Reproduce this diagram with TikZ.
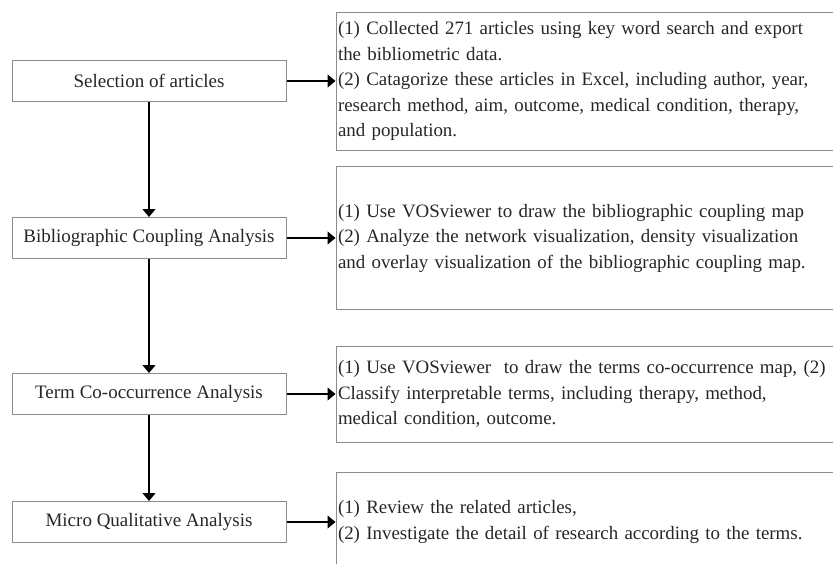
\documentclass[tikz,border=0pt]{standalone}
\usepackage{fontspec}
\setmainfont{Liberation Serif}
\usetikzlibrary{
	positioning,
	arrows.meta
}

\begin{document}
\begin{tikzpicture}[x=1pt,y=-1pt,node distance=49pt,
	stagebox/.style={draw=black!45, line width=1pt, minimum width=274pt, minimum height=41pt, inner sep=0pt, text=black!85, font=\fontsize{19}{25.5}\selectfont},
	descbox/.style={draw=black!45, line width=1pt, text width=501pt, align=left, inner xsep=2pt, inner ysep=0pt, text=black!85, font=\fontsize{18.9}{25.5}\selectfont},
	flow/.style={line width=1.2pt, -{Triangle[length=8pt,width=13pt]}}]
	\useasboundingbox (0,0) rectangle (833,563);
	\clip (0,0) rectangle (833,563);

	\node[stagebox] (sel) at (149,81) {Selection of articles};
	\node[stagebox, below=115pt of sel] (bib) {Bibliographic Coupling Analysis};
	\node[stagebox, below=114pt of bib] (term) {Term Co-occurrence Analysis};
	\node[stagebox, below=86pt of term] (micro) {Micro Qualitative Analysis};

	\node[descbox, minimum height=138pt, right=of sel] (seldesc) {(1) Collected 271 articles using key word search and export\\the bibliometric data.\\(2) Catagorize these articles in Excel, including author, year,\\research method, aim, outcome, medical condition, therapy,\\and population.};
	\node[descbox, minimum height=143pt, right=of bib] (bibdesc) {(1) Use VOSviewer to draw the bibliographic coupling map\\(2) Analyze the network visualization, density visualization\\and overlay visualization of the bibliographic coupling map.};
	\node[descbox, minimum height=96pt, right=of term] (termdesc) {(1) Use VOSviewer\ \ to draw the terms co-occurrence map, (2)\\Classify interpretable terms, including therapy, method,\\medical condition, outcome.};
	\node[descbox, minimum height=100pt, right=of micro] (microdesc) {(1) Review the related articles,\\(2) Investigate the detail of research according to the terms.};

	\draw[flow] (sel) -- (bib);
	\draw[flow] (bib) -- (term);
	\draw[flow] (term) -- (micro);

	\draw[flow] (sel) -- (seldesc);
	\draw[flow] (bib) -- (bibdesc);
	\draw[flow] (term) -- (termdesc);
	\draw[flow] (micro) -- (microdesc);
\end{tikzpicture}
\end{document}
